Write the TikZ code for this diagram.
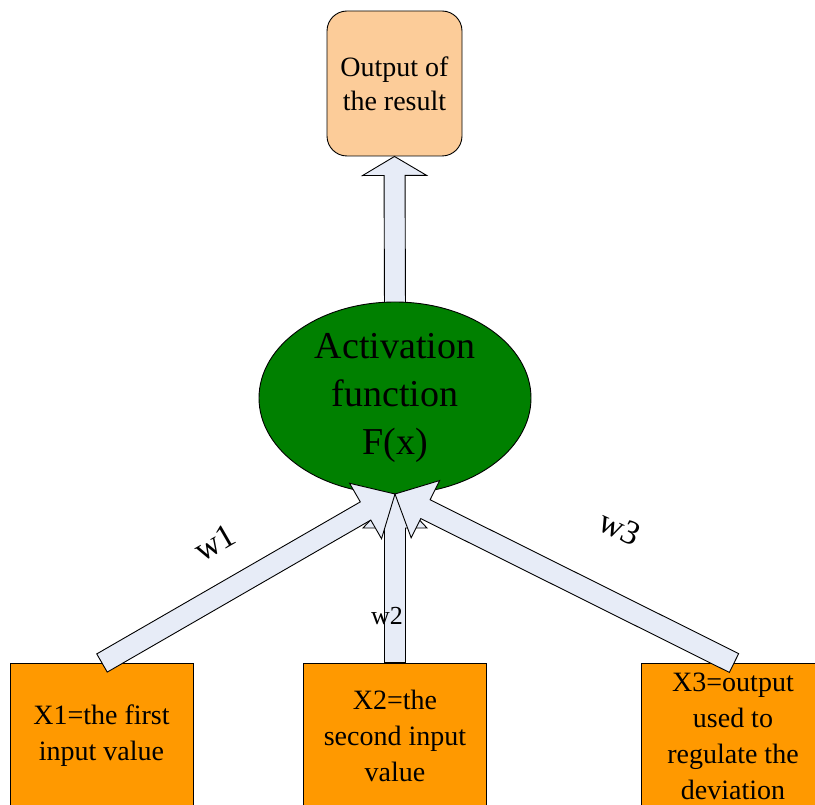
\documentclass[tikz,border=0pt]{standalone}
\usepackage{fontspec}
\setmainfont{Liberation Serif}
\usetikzlibrary{calc,shapes.geometric}
\definecolor{boxorange}{RGB}{255,153,0}
\definecolor{peach}{RGB}{252,204,153}
\definecolor{dkgreen}{RGB}{0,128,0}
\definecolor{arrowfill}{RGB}{231,236,247}
\tikzset{
  barrow/.style={draw=black, line width=0.9pt, fill=arrowfill, line join=miter},
  inbox/.style={draw=black, line width=0.9pt, fill=boxorange, minimum width=183pt, minimum height=146pt, inner sep=0pt, align=center, font=\fontsize{28}{36}\selectfont},
  outbox/.style={draw=black, line width=0.9pt, fill=peach, rounded corners=20pt, minimum width=135pt, minimum height=145pt, inner sep=0pt, align=center, font=\fontsize{28}{34}\selectfont},
  actnode/.style={ellipse, draw=black, line width=0.9pt, fill=dkgreen, minimum width=272pt, minimum height=192pt, inner sep=0pt},
  acttext/.style={align=center, inner sep=0pt, font=\fontsize{38}{48}\selectfont},
  wlabel/.style={inner sep=0pt, font=\fontsize{34}{40}\selectfont},
  wsmall/.style={inner sep=0pt, font=\fontsize{26}{30}\selectfont},
}
% block arrow: optional head length, from, to
\newcommand{\blockarrow}[3][34pt]{%
  \coordinate (bah) at ($(#3)!#1!(#2)$);
  \path[barrow] ($(#2)!10.5pt!90:(#3)$) -- ($(bah)!10.5pt!90:(#3)$) -- ($(bah)!32pt!90:(#3)$) -- (#3)
     -- ($(bah)!32pt!-90:(#3)$) -- ($(bah)!10.5pt!-90:(#3)$) -- ($(#2)!10.5pt!-90:(#3)$) -- cycle;
}
\begin{document}
\begin{tikzpicture}[x=1pt, y=-1pt]
\useasboundingbox (0,0) rectangle (815,805);
\clip (0,0) rectangle (815,805);
% top output box
\node[outbox] (out) at (394.5,83.5) {Output of\\the result};
% upward arrow (under the ellipse)
\coordinate (upstart) at (395,312);
\blockarrow[19pt]{upstart}{out.south}
% activation ellipse
\node[actnode] (act) at (395,398) {};
\node[acttext] (acttxt) at (395,398) {Activation\\function\\F(x)};
% input boxes
\node[inbox] (x1) at (101.5,736) {X1=the first\\input value};
\node[inbox] (x2) at (395,736) {X2=the\\second input\\value};
\node[inbox] (x3) at (733,736) {X3=output\\used to\\regulate the\\deviation};
% arrows into the ellipse
\coordinate (tip) at (395,494);
\coordinate (t1) at (102,663);
\coordinate (t3) at (734,663);
\blockarrow{x2.north}{tip}
\blockarrow{t1}{tip}
\blockarrow{t3}{tip}
% weight labels
\node[wlabel, rotate=30] (w1) at (215,543) {w1};
\node[wsmall] (w2) at (387,616) {w2};
\node[wlabel, rotate=-25] (w3) at (620,528) {w3};
\end{tikzpicture}
\end{document}
